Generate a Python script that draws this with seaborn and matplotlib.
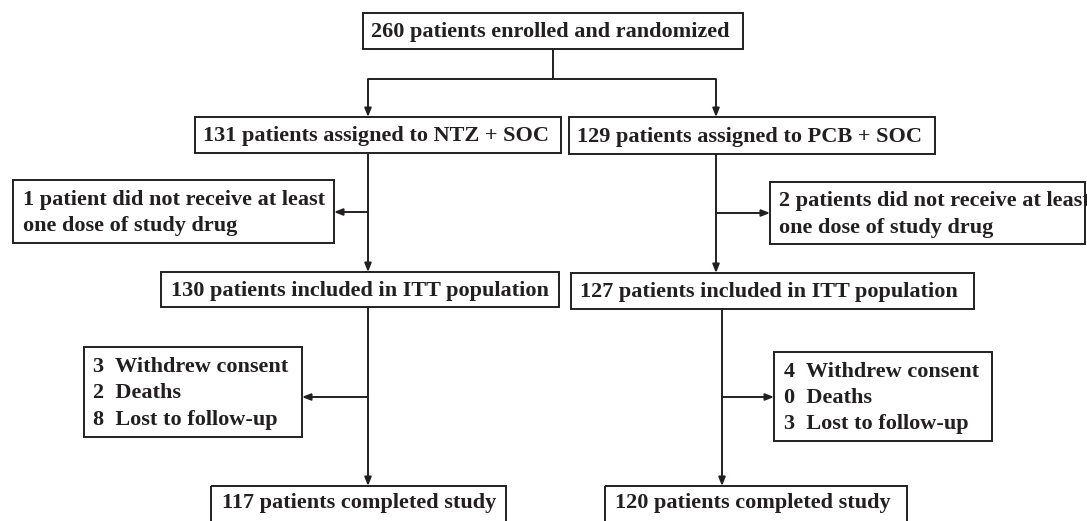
import matplotlib.pyplot as plt
import seaborn as sns
from matplotlib.patches import Rectangle

# Flow counts
enrolled = 260
arm_names = ['NTZ + SOC', 'PCB + SOC']
assigned = [131, 129]
no_dose = [1, 2]
itt = [130, 127]
withdrew = [3, 4]
deaths = [2, 0]
lost = [8, 3]
completed = [117, 120]

sns.set_style('white')
plt.rcParams['font.family'] = ['Liberation Serif', 'DejaVu Serif']

fig = plt.figure(figsize=(10.87, 5.21), dpi=100)
ax = fig.add_axes([0, 0, 1, 1])
ax.set_xlim(0, 1087)
ax.set_ylim(521, 0)
ax.axis('off')

ink = '#231f20'
fs = 16


def box(x0, y0, x1, y1, text, pad=8, ty=None):
    ax.add_patch(Rectangle((x0, y0), x1 - x0, y1 - y0, fill=False,
                           edgecolor=ink, linewidth=1.4))
    if ty is None:
        ty = (y0 + y1) / 2 + 1.5
    ax.text(x0 + pad, ty, text, ha='left', va='center',
            fontsize=fs, fontweight='bold', color=ink, linespacing=1.42)


def line(xs, ys):
    ax.plot(xs, ys, color=ink, linewidth=1.4, solid_capstyle='butt')


def arrow(x0, y0, x1, y1):
    ax.annotate('', xy=(x1, y1), xytext=(x0, y0),
                arrowprops=dict(arrowstyle='-|>,head_length=0.5,head_width=0.2',
                                color=ink, lw=1.4, shrinkA=0, shrinkB=0))


# top box and split
box(363, 13, 743, 49, f'{enrolled} patients enrolled and randomized')
line([553, 553], [49, 79])
line([368, 716], [79, 79])
arrow(368, 79, 368, 117)
arrow(716, 79, 716, 117)

# left arm
box(195, 117, 561, 153, f'{assigned[0]} patients assigned to {arm_names[0]}')
arrow(368, 153, 368, 272)
arrow(368, 212, 334, 212)
box(13, 180, 334, 243, f'{no_dose[0]} patient did not receive at least\none dose of study drug', pad=10)
box(161, 272, 559, 307, f'{itt[0]} patients included in ITT population', pad=10)
arrow(368, 307, 368, 486)
arrow(368, 397, 302, 397)
box(84, 347, 302, 437, f'{withdrew[0]}  Withdrew consent\n{deaths[0]}  Deaths\n{lost[0]}  Lost to follow-up', pad=9)
box(211, 486, 506, 540, f'{completed[0]} patients completed study', pad=11, ty=503)

# right arm
box(569, 117, 935, 154, f'{assigned[1]} patients assigned to {arm_names[1]}')
arrow(716, 154, 716, 273)
arrow(716, 213, 770, 213)
box(770, 182, 1085, 244, f'{no_dose[1]} patients did not receive at least\none dose of study drug', pad=9)
box(571, 273, 974, 309, f'{itt[1]} patients included in ITT population', pad=9)
arrow(722, 309, 722, 486)
arrow(722, 397, 774, 397)
box(774, 352, 992, 441, f'{withdrew[1]}  Withdrew consent\n{deaths[1]}  Deaths\n{lost[1]}  Lost to follow-up', pad=10)
box(605, 486, 907, 540, f'{completed[1]} patients completed study', pad=10, ty=503)

fig.savefig('out.png', dpi=100, facecolor='white')
